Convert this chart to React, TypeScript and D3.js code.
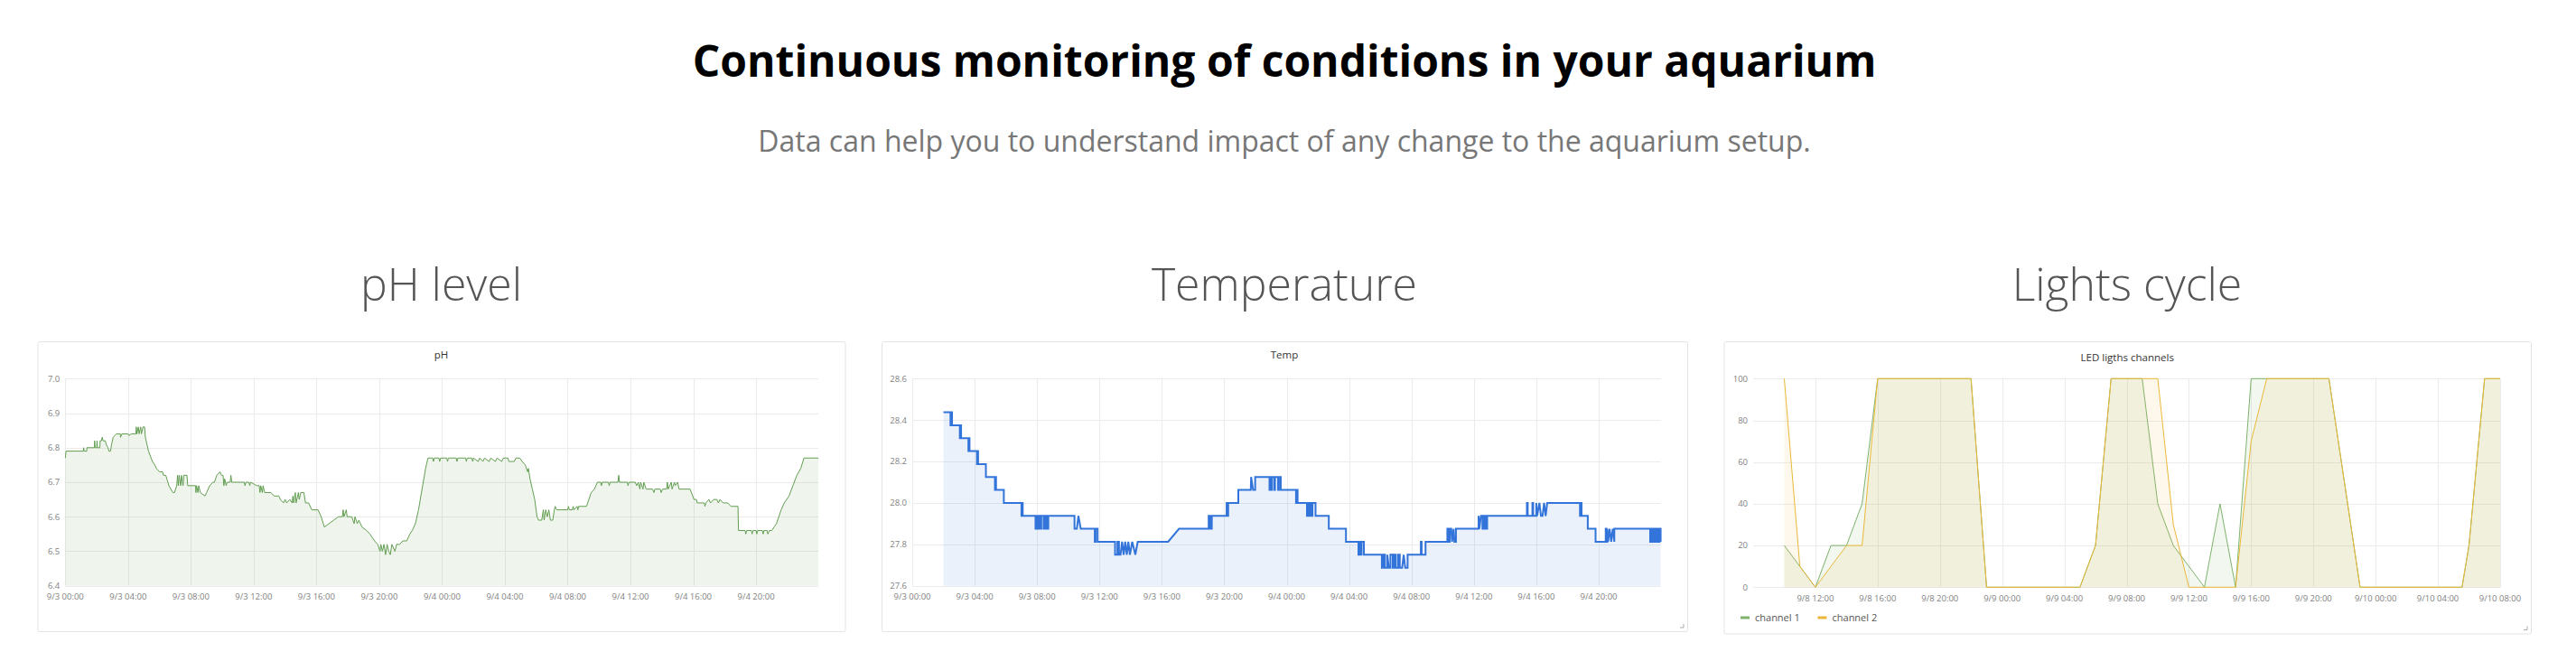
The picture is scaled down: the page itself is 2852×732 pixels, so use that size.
import React from "react";
import * as d3 from "d3";

// ---------- text ----------
const HEADING = "Continuous monitoring of conditions in your aquarium";
const SUBHEADING = "Data can help you to understand impact of any change to the aquarium setup.";
const SECTION_TITLES = ["pH level", "Temperature", "Lights cycle"];
const PANEL_TITLES = ["pH", "Temp", "LED ligths channels"];

// ---------- time axes ----------
const PH_RANGE = ["9/3 00:00", "9/4 23:58"];
const TEMP_RANGE = ["9/3 00:00", "9/4 23:58"];
const LIGHT_RANGE = ["9/8 08:00", "9/10 08:00"];
const DAY_TICKS = [
  "9/3 00:00", "9/3 04:00", "9/3 08:00", "9/3 12:00", "9/3 16:00", "9/3 20:00",
  "9/4 00:00", "9/4 04:00", "9/4 08:00", "9/4 12:00", "9/4 16:00", "9/4 20:00",
];
const LIGHT_TICKS = [
  "9/8 12:00", "9/8 16:00", "9/8 20:00", "9/9 00:00", "9/9 04:00", "9/9 08:00",
  "9/9 12:00", "9/9 16:00", "9/9 20:00", "9/10 00:00", "9/10 04:00", "9/10 08:00",
];

// ---------- value axes ----------
const PH_Y_TICKS = [6.4, 6.5, 6.6, 6.7, 6.8, 6.9, 7.0];
const TEMP_Y_TICKS = [27.6, 27.8, 28.0, 28.2, 28.4, 28.6];
const LIGHT_Y_TICKS = [0, 20, 40, 60, 80, 100];

// ---------- series: [hours after range start, value] ----------
const PH_POINTS: [number, number][] = [
  [0, 6.77], [0.05, 6.79], [1.15, 6.79], [1.17, 6.8], [1.2, 6.79], [1.37, 6.79], [1.37, 6.8],
  [1.85, 6.8], [1.87, 6.82], [1.9, 6.8], [2.0, 6.8], [2.02, 6.82], [2.05, 6.8], [2.2, 6.8],
  [2.22, 6.82], [2.3, 6.82], [2.35, 6.83], [2.4, 6.82], [2.55, 6.82], [2.6, 6.81], [2.72, 6.8],
  [2.78, 6.79], [2.88, 6.79], [2.95, 6.81], [3.05, 6.83], [3.25, 6.84], [3.5, 6.84], [3.52, 6.83],
  [3.6, 6.84], [4.0, 6.84], [4.05, 6.835], [4.2, 6.84], [4.5, 6.84], [4.52, 6.86], [4.56, 6.84],
  [4.65, 6.86], [4.7, 6.84], [4.8, 6.86], [4.85, 6.84], [4.95, 6.86], [5.05, 6.86], [5.1, 6.83],
  [5.3, 6.79], [5.55, 6.76], [5.7, 6.75], [5.8, 6.74], [6.0, 6.73], [6.2, 6.73], [6.25, 6.72],
  [6.4, 6.72], [6.6, 6.69], [6.85, 6.67], [6.95, 6.67], [7.1, 6.69], [7.15, 6.72], [7.2, 6.69],
  [7.25, 6.72], [7.35, 6.69], [7.4, 6.72], [7.5, 6.69], [7.55, 6.72], [7.75, 6.72], [7.8, 6.69],
  [8.3, 6.69], [8.32, 6.67], [8.36, 6.69], [8.45, 6.67], [8.5, 6.69], [8.6, 6.67], [8.9, 6.66],
  [9.0, 6.67], [9.2, 6.69], [9.4, 6.7], [9.5, 6.7], [9.65, 6.72], [9.85, 6.73], [9.95, 6.72],
  [10.05, 6.72], [10.1, 6.69], [10.15, 6.71], [10.25, 6.69], [10.3, 6.7], [10.5, 6.7], [10.55, 6.72],
  [10.6, 6.7], [11.4, 6.7], [11.45, 6.69], [11.5, 6.7], [11.7, 6.7], [11.75, 6.69], [11.8, 6.7],
  [12.2, 6.69], [12.35, 6.69], [12.4, 6.67], [12.45, 6.69], [12.55, 6.67], [12.6, 6.69], [12.7, 6.67],
  [13.1, 6.67], [13.3, 6.66], [13.6, 6.66], [13.7, 6.65], [13.9, 6.64], [14.0, 6.65], [14.1, 6.64],
  [14.3, 6.65], [14.45, 6.64], [14.5, 6.66], [14.55, 6.64], [14.65, 6.67], [14.7, 6.64], [14.85, 6.67],
  [14.9, 6.65], [15.0, 6.67], [15.2, 6.67], [15.3, 6.64], [15.5, 6.64], [15.7, 6.62], [16.1, 6.62],
  [16.3, 6.6], [16.5, 6.57], [17.1, 6.59], [17.4, 6.6], [17.65, 6.6], [17.7, 6.62], [17.75, 6.6],
  [17.9, 6.62], [17.95, 6.6], [18.25, 6.6], [18.4, 6.58], [18.45, 6.6], [18.6, 6.58], [18.7, 6.59],
  [18.9, 6.57], [19.2, 6.56], [19.4, 6.55], [19.7, 6.53], [19.9, 6.52], [20.05, 6.5], [20.1, 6.52],
  [20.2, 6.5], [20.3, 6.52], [20.4, 6.49], [20.5, 6.52], [20.6, 6.5], [20.7, 6.49], [20.8, 6.52],
  [21.0, 6.5], [21.1, 6.52], [21.3, 6.52], [21.5, 6.53], [21.75, 6.53], [21.95, 6.55], [22.1, 6.56],
  [22.3, 6.58], [22.5, 6.62], [22.65, 6.66], [22.8, 6.7], [22.95, 6.74], [23.1, 6.77], [23.4, 6.77],
  [23.45, 6.76], [23.5, 6.77], [23.8, 6.77], [23.85, 6.76], [23.9, 6.77], [24.3, 6.77], [24.35, 6.76],
  [24.4, 6.77], [24.9, 6.77], [24.95, 6.76], [25.0, 6.77], [25.5, 6.77], [25.55, 6.76], [25.6, 6.77],
  [25.9, 6.77], [25.95, 6.76], [26.0, 6.77], [26.3, 6.76], [26.4, 6.77], [26.6, 6.76], [26.7, 6.77],
  [27.0, 6.76], [27.1, 6.77], [27.4, 6.76], [27.5, 6.77], [27.8, 6.76], [27.9, 6.77], [28.2, 6.77],
  [28.25, 6.76], [28.6, 6.76], [28.7, 6.77], [28.95, 6.77], [29.1, 6.76], [29.3, 6.75], [29.45, 6.73],
  [29.5, 6.74], [29.6, 6.71], [29.75, 6.68], [29.9, 6.65], [30.05, 6.6], [30.15, 6.59], [30.35, 6.59],
  [30.45, 6.62], [30.5, 6.59], [30.6, 6.62], [30.7, 6.6], [30.8, 6.62], [30.9, 6.59], [31.05, 6.59],
  [31.15, 6.62], [31.2, 6.63], [31.3, 6.62], [32.0, 6.62], [32.05, 6.63], [32.1, 6.62], [32.3, 6.62],
  [32.35, 6.63], [32.4, 6.62], [32.6, 6.63], [32.65, 6.62], [32.7, 6.63], [33.2, 6.63], [33.35, 6.65],
  [33.5, 6.67], [33.7, 6.68], [33.9, 6.7], [34.1, 6.7], [34.15, 6.69], [34.2, 6.7], [34.6, 6.7],
  [34.65, 6.69], [34.7, 6.7], [35.2, 6.7], [35.25, 6.72], [35.3, 6.7], [35.8, 6.7], [35.85, 6.69],
  [35.9, 6.7], [36.3, 6.7], [36.4, 6.69], [36.5, 6.7], [36.6, 6.68], [36.65, 6.7], [36.8, 6.68],
  [36.85, 6.7], [37.0, 6.68], [37.4, 6.68], [37.5, 6.67], [37.55, 6.68], [37.9, 6.68], [37.95, 6.67],
  [38.05, 6.68], [38.3, 6.68], [38.35, 6.7], [38.4, 6.68], [38.6, 6.7], [38.65, 6.68], [38.8, 6.7],
  [38.85, 6.69], [39.0, 6.7], [39.1, 6.68], [39.8, 6.68], [40.05, 6.65], [40.2, 6.65], [40.25, 6.64],
  [40.7, 6.64], [40.75, 6.63], [40.8, 6.64], [41.0, 6.65], [41.1, 6.64], [41.3, 6.65], [41.5, 6.65],
  [41.6, 6.64], [41.7, 6.65], [41.9, 6.64], [42.2, 6.64], [42.4, 6.63], [42.85, 6.63], [42.88, 6.56],
  [43.3, 6.56], [43.35, 6.55], [43.4, 6.56], [43.7, 6.56], [43.75, 6.55], [43.8, 6.56], [44.0, 6.56],
  [44.05, 6.55], [44.1, 6.56], [44.4, 6.56], [44.45, 6.55], [44.5, 6.56], [44.7, 6.56], [44.75, 6.55],
  [44.85, 6.56], [45.0, 6.56], [45.15, 6.57], [45.3, 6.58], [45.45, 6.6], [45.6, 6.62], [45.8, 6.64],
  [46.1, 6.66], [46.35, 6.69], [46.6, 6.72], [46.85, 6.74], [47.05, 6.77], [47.97, 6.77],
];

const TEMP_POINTS: [number, number][] = [
  [2.0, 28.4375], [2.45, 28.4375], [2.45, 28.375], [2.5, 28.375], [2.5, 28.4375], [2.55, 28.4375], [2.55, 28.375],
  [3.05, 28.375], [3.05, 28.3125], [3.1, 28.3125], [3.1, 28.375], [3.13, 28.375], [3.13, 28.3125],
  [3.6, 28.3125], [3.6, 28.25], [3.64, 28.25], [3.64, 28.3125], [3.67, 28.3125], [3.67, 28.25],
  [4.15, 28.25], [4.15, 28.1875], [4.19, 28.1875], [4.19, 28.25], [4.22, 28.25], [4.22, 28.1875],
  [4.72, 28.1875], [4.72, 28.125], [5.3, 28.125], [5.3, 28.0625], [5.34, 28.0625], [5.34, 28.125],
  [5.37, 28.125], [5.37, 28.0625], [5.87, 28.0625], [5.87, 28.0],
  [7.0, 28.0], [7.0, 27.9375], [7.04, 27.9375], [7.04, 28.0], [7.08, 28.0], [7.08, 27.9375],
  [7.9, 27.9375], [7.9, 27.875], [7.96, 27.875], [7.96, 27.9375], [8.02, 27.9375], [8.02, 27.875],
  [8.12, 27.875], [8.12, 27.9375], [8.17, 27.9375], [8.17, 27.875], [8.27, 27.875], [8.27, 27.9375],
  [8.42, 27.9375], [8.42, 27.875], [8.52, 27.875], [8.52, 27.9375], [8.62, 27.9375], [8.62, 27.875],
  [8.72, 27.875], [8.72, 27.9375],
  [10.4, 27.9375], [10.4, 27.875], [10.55, 27.875], [10.65, 27.9375], [10.8, 27.875],
  [11.7, 27.875], [11.7, 27.8125], [11.75, 27.8125], [11.75, 27.875], [11.88, 27.875], [11.88, 27.8125],
  [13.0, 27.8125], [13.0, 27.75], [13.15, 27.75], [13.15, 27.8125], [13.25, 27.8125], [13.25, 27.75],
  [13.35, 27.75], [13.45, 27.8125], [13.55, 27.75], [13.65, 27.8125], [13.75, 27.75], [13.85, 27.8125],
  [13.95, 27.75], [14.1, 27.8125], [14.3, 27.75], [14.45, 27.8125],
  [16.4, 27.8125], [17.1, 27.875],
  [19.0, 27.875], [19.0, 27.9375], [19.05, 27.9375], [19.05, 27.875], [19.1, 27.875], [19.1, 27.9375],
  [19.15, 27.9375], [19.15, 27.875], [19.2, 27.875], [19.2, 27.9375],
  [20.15, 27.9375], [20.15, 28.0], [20.2, 28.0], [20.2, 27.9375], [20.25, 27.9375], [20.25, 28.0],
  [20.9, 28.0], [20.9, 28.0625], [21.7, 28.0625], [21.72, 28.125], [21.85, 28.0625], [21.98, 28.0625], [21.98, 28.125],
  [22.9, 28.125], [22.9, 28.0625], [22.95, 28.0625], [22.95, 28.125], [23.0, 28.125], [23.0, 28.0625],
  [23.05, 28.0625], [23.05, 28.125], [23.2, 28.125], [23.2, 28.0625], [23.25, 28.0625], [23.25, 28.125],
  [23.45, 28.125], [23.45, 28.0625], [23.5, 28.0625], [23.5, 28.125], [23.62, 28.125], [23.62, 28.0625],
  [24.6, 28.0625], [24.6, 28.0], [24.65, 28.0], [24.65, 28.0625], [24.7, 28.0625], [24.7, 28.0],
  [25.3, 28.0], [25.3, 27.9375], [25.35, 27.9375], [25.35, 28.0], [25.45, 28.0], [25.45, 27.9375],
  [25.5, 27.9375], [25.5, 28.0], [25.6, 28.0], [25.6, 27.9375], [25.65, 27.9375], [25.65, 28.0],
  [25.85, 28.0], [25.85, 27.9375],
  [26.7, 27.9375], [26.7, 27.875], [27.8, 27.875], [27.8, 27.8125],
  [28.6, 27.8125], [28.6, 27.75], [28.65, 27.75], [28.65, 27.8125], [28.75, 27.8125], [28.75, 27.75],
  [28.8, 27.75], [28.8, 27.8125], [28.95, 27.8125], [28.95, 27.75],
  [30.1, 27.75], [30.1, 27.6875], [30.2, 27.6875], [30.2, 27.75], [30.3, 27.75], [30.3, 27.6875],
  [30.45, 27.6875], [30.45, 27.75], [30.55, 27.6875], [30.65, 27.6875], [30.65, 27.75], [30.8, 27.75],
  [30.8, 27.6875], [30.9, 27.6875], [30.9, 27.75], [31.0, 27.75], [31.0, 27.6875], [31.15, 27.6875],
  [31.15, 27.75], [31.25, 27.75], [31.25, 27.6875], [31.4, 27.6875], [31.5, 27.75], [31.6, 27.6875],
  [31.75, 27.6875], [31.75, 27.75],
  [32.6, 27.75], [32.6, 27.8125], [32.65, 27.8125], [32.65, 27.75], [32.9, 27.75], [32.9, 27.8125],
  [34.3, 27.8125], [34.3, 27.875], [34.35, 27.875], [34.35, 27.8125], [34.45, 27.8125], [34.45, 27.875],
  [34.55, 27.875], [34.6, 27.8125], [34.7, 27.875], [34.75, 27.8125], [34.85, 27.8125], [34.85, 27.875],
  [36.3, 27.875], [36.3, 27.9375], [36.35, 27.875], [36.45, 27.9375], [36.55, 27.9375], [36.55, 27.875],
  [36.65, 27.875], [36.65, 27.9375], [36.75, 27.9375], [36.75, 27.875], [36.85, 27.875], [36.85, 27.9375],
  [39.4, 27.9375], [39.4, 28.0], [39.45, 28.0], [39.45, 27.9375], [39.75, 27.9375], [39.75, 28.0],
  [39.8, 28.0], [39.8, 27.9375], [40.0, 27.9375], [40.0, 28.0], [40.05, 27.9375], [40.2, 28.0],
  [40.3, 27.9375], [40.4, 27.9375], [40.5, 28.0], [40.6, 27.9375], [40.7, 28.0],
  [42.8, 28.0], [42.8, 27.9375], [42.85, 27.9375], [42.85, 28.0], [42.9, 28.0], [42.9, 27.9375],
  [43.3, 27.9375], [43.3, 27.875], [43.8, 27.875], [43.8, 27.8125],
  [44.45, 27.8125], [44.45, 27.875], [44.5, 27.875], [44.5, 27.8125], [44.55, 27.8125], [44.55, 27.875],
  [44.6, 27.8125], [44.7, 27.875], [44.8, 27.8125], [44.9, 27.875], [45.0, 27.8125], [45.0, 27.875],
  [47.3, 27.875], [47.3, 27.8125], [47.35, 27.8125], [47.35, 27.875], [47.45, 27.875], [47.45, 27.8125],
  [47.55, 27.8125], [47.55, 27.875], [47.6, 27.875], [47.6, 27.8125], [47.7, 27.8125], [47.7, 27.875],
  [47.8, 27.875], [47.8, 27.8125], [47.9, 27.8125], [47.9, 27.875], [47.97, 27.875], [47.97, 27.8125],
];

const CHANNEL_NAMES = ["channel 1", "channel 2"];
const CH1_POINTS: [number, number][] = [
  [2, 20], [3, 10], [4, 0], [5, 20], [6, 20], [7, 40], [8, 100], [14, 100], [15, 0], [21, 0],
  [22, 20], [23, 100], [25, 100], [26, 40], [27, 20], [28, 10], [29, 0], [30, 40], [31, 0],
  [32, 100], [37, 100], [38, 50], [39, 0], [45.55, 0], [46, 20], [47, 100], [48, 100],
];
const CH2_POINTS: [number, number][] = [
  [2, 100], [3, 10], [4, 0], [5, 10], [6, 20], [7, 20], [8, 100], [14, 100], [15, 0], [21, 0],
  [22, 20], [23, 100], [26, 100], [27, 30], [28, 0], [31, 0], [32, 70], [33, 100], [37, 100],
  [38, 50], [39, 0], [45.55, 0], [46, 20], [47, 100], [48, 100],
];

// ---------- helpers ----------
const parse = d3.utcParse("%m/%d %H:%M");
const fmtTick = d3.utcFormat("%-m/%-d %H:%M");
const HOUR = 3600 * 1000;
const at = (start: string, h: number) => new Date((parse(start) as Date).getTime() + h * HOUR);

const FONT = "'Open Sans', 'Noto Sans', sans-serif";
const GRID = "#ebebeb";
const TICK_COLOR = "#7f7f7f";

type Series = { points: [number, number][]; color: string; width: number; fill: number };

type PanelProps = {
  box: { x: number; y: number; w: number; h: number };
  plot: { l: number; r: number; t: number; b: number };
  title: string;
  titleY: number;
  range: string[];
  timeTicks: string[];
  yTicks: number[];
  yFmt: (v: number) => string;
  series: Series[];
  tickY: number;
  legend?: { names: string[]; colors: string[]; y: number };
  resize?: boolean;
};

function Panel(p: PanelProps) {
  const x = d3
    .scaleUtc()
    .domain([parse(p.range[0]) as Date, parse(p.range[1]) as Date])
    .range([p.plot.l, p.plot.r]);
  const y = d3
    .scaleLinear()
    .domain([p.yTicks[0], p.yTicks[p.yTicks.length - 1]])
    .range([p.plot.b, p.plot.t]);
  const start = p.range[0];
  const line = d3
    .line<[number, number]>()
    .x((d) => x(at(start, d[0])))
    .y((d) => y(d[1]));
  const area = d3
    .area<[number, number]>()
    .x((d) => x(at(start, d[0])))
    .y0(y(p.yTicks[0]))
    .y1((d) => y(d[1]));
  const tickDates = p.timeTicks.map((t) => parse(t) as Date);
  const cx = p.box.x + p.box.w / 2;
  const { x: bx, y: by, w: bw, h: bh } = p.box;
  return (
    <g>
      <rect x={bx + 0.5} y={by + 0.5} width={bw} height={bh} rx={2} fill="#fff" stroke="#e3e3e3" strokeWidth={1} />
      <text x={cx} y={p.titleY} textAnchor="middle" fontFamily={FONT} fontSize={11.5} fill="#333">
        {p.title}
      </text>
      {/* grid */}
      {p.yTicks.map((v) => (
        <line key={"h" + v} x1={p.plot.l} x2={p.plot.r} y1={Math.round(y(v)) + 0.5} y2={Math.round(y(v)) + 0.5} stroke={GRID} />
      ))}
      {tickDates.map((d, i) => (
        <line key={"v" + i} x1={Math.round(x(d)) + 0.5} x2={Math.round(x(d)) + 0.5} y1={p.plot.t} y2={p.plot.b} stroke={GRID} />
      ))}
      {/* series */}
      {p.series.map((s, i) => (
        <g key={"s" + i}>
          <path d={area(s.points) || ""} fill={s.color} fillOpacity={s.fill} stroke="none" />
          <path d={line(s.points) || ""} fill="none" stroke={s.color} strokeWidth={s.width} strokeLinejoin="miter" />
        </g>
      ))}
      {/* y labels */}
      {p.yTicks.map((v) => (
        <text key={"yl" + v} x={p.plot.l - 6} y={y(v)} dy="0.35em" textAnchor="end" fontFamily={FONT} fontSize={9.5} fill={TICK_COLOR}>
          {p.yFmt(v)}
        </text>
      ))}
      {/* x labels */}
      {tickDates.map((d, i) => (
        <text key={"xl" + i} x={x(d)} y={p.tickY} textAnchor="middle" fontFamily={FONT} fontSize={9.5} fill={TICK_COLOR}>
          {fmtTick(d)}
        </text>
      ))}
      {p.legend &&
        p.legend.names.map((n, i) => {
          const lx = p.plot.l - 14 + i * 85.5;
          return (
            <g key={"lg" + i}>
              <rect x={lx} y={p.legend!.y - 1.5} width={10} height={3} fill={p.legend!.colors[i]} />
              <text x={lx + 16} y={p.legend!.y} dy="0.35em" fontFamily={FONT} fontSize={11} fill="#555">
                {n}
              </text>
            </g>
          );
        })}
      {p.resize && (
        <path
          d={`M${bx + bw - 8},${by + bh - 4} L${bx + bw - 4},${by + bh - 4} L${bx + bw - 4},${by + bh - 8}`}
          fill="none"
          stroke="#aaa"
          strokeWidth={1}
        />
      )}
    </g>
  );
}

export default function App() {
  const W = 2852;
  const H = 732;
  const CENTER = 1422;
  const phColor = "#629e51";
  const tempColor = "#3274d9";
  const ch1Color = "#7eb26d";
  const ch2Color = "#eab839";
  return (
    <svg width={W} height={H} style={{ position: "absolute", left: 0, top: 0, display: "block", background: "#fff" }}>
      <rect width={W} height={H} fill="#fff" />
      <text x={CENTER} y={85} textAnchor="middle" fontFamily={FONT} fontWeight={700} fontSize={48} fill="#000">
        {HEADING}
      </text>
      <text x={CENTER} y={168} textAnchor="middle" fontFamily={FONT} fontSize={32} fill="#777">
        {SUBHEADING}
      </text>
      {SECTION_TITLES.map((t, i) => (
        <text key={t} x={[488.5, 1422, 2355][i]} y={333} textAnchor="middle" fontFamily={FONT} fontWeight={300} fontSize={50} fill="#555">
          {t}
        </text>
      ))}
      <Panel
        box={{ x: 41.5, y: 378, w: 894, h: 321 }}
        plot={{ l: 72.3, r: 906, t: 419.3, b: 648.7 }}
        title={PANEL_TITLES[0]}
        titleY={396.5}
        range={PH_RANGE}
        timeTicks={DAY_TICKS}
        yTicks={PH_Y_TICKS}
        yFmt={d3.format(".1f")}
        series={[{ points: PH_POINTS, color: phColor, width: 1, fill: 0.1 }]}
        tickY={664}
      />
      <Panel
        box={{ x: 976, y: 378, w: 892, h: 321 }}
        plot={{ l: 1010, r: 1838.5, t: 419.3, b: 648.7 }}
        title={PANEL_TITLES[1]}
        titleY={396.5}
        range={TEMP_RANGE}
        timeTicks={DAY_TICKS}
        yTicks={TEMP_Y_TICKS}
        yFmt={d3.format(".1f")}
        series={[{ points: TEMP_POINTS, color: tempColor, width: 2, fill: 0.1 }]}
        tickY={664}
        resize
      />
      <Panel
        box={{ x: 1908.5, y: 378, w: 893.5, h: 323.5 }}
        plot={{ l: 1941, r: 2768, t: 419.3, b: 650.3 }}
        title={PANEL_TITLES[2]}
        titleY={400}
        range={LIGHT_RANGE}
        timeTicks={LIGHT_TICKS}
        yTicks={LIGHT_Y_TICKS}
        yFmt={d3.format("d")}
        series={[
          { points: CH1_POINTS, color: ch1Color, width: 1, fill: 0.1 },
          { points: CH2_POINTS, color: ch2Color, width: 1, fill: 0.1 },
        ]}
        tickY={665.5}
        legend={{ names: CHANNEL_NAMES, colors: [ch1Color, ch2Color], y: 684 }}
        resize
      />
    </svg>
  );
}
